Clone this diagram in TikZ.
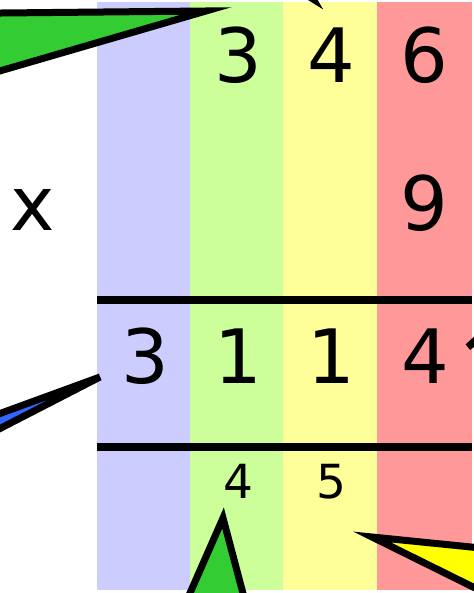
\documentclass[tikz,border=0pt]{standalone}
\usepackage{fontspec}
\setmainfont{DejaVu Sans}

\definecolor{colblue}{HTML}{CCCCFF}
\definecolor{colgreen}{HTML}{CCFF99}
\definecolor{colyellow}{HTML}{FFFF99}
\definecolor{colred}{HTML}{FF9999}
\definecolor{ptgreen}{HTML}{33CC33}
\definecolor{ptblue}{HTML}{3366FF}
\definecolor{ptyellow}{HTML}{FFFF00}
\definecolor{ptred}{HTML}{FF3333}

\tikzset{
  digit/.style={anchor=base, inner sep=0pt, font=\fontsize{75}{80}\selectfont},
  carry/.style={anchor=base, inner sep=0pt, font=\fontsize{47}{52}\selectfont},
  pointer/.style={draw=black, line width=7pt},
  rule/.style={line width=8pt}
}

\begin{document}
\begin{tikzpicture}[x=1pt,y=-1pt]
\useasboundingbox (0,0) rectangle (473,593);
\fill[colblue]   (97,2)  rectangle (190,590);
\fill[colgreen]  (190,2) rectangle (283,590);
\fill[colyellow] (283,2) rectangle (377,590);
\fill[colred]    (377,2) rectangle (472,590);

\coordinate (L1) at (97,300);
\coordinate (R1) at (472,300);
\coordinate (L2) at (97,447);
\coordinate (R2) at (472,447);
\draw[rule] (L1)--(R1);
\draw[rule] (L2)--(R2);

\node[digit] (a3) at (238,83) {3};
\node[digit] (a4) at (331,83) {4};
\node[digit] (a6) at (424,83) {6};
\node[digit] (times) at (33,231) {x};
\node[digit] (b9) at (424,231) {9};
\node[digit] (r3) at (145,383) {3};
\node[digit] (r1) at (238,383) {1};
\node[digit] (r2) at (331,383) {1};
\node[digit] (r4) at (425,383) {4};
\node[carry] (c4) at (238,498) {4};
\node[carry] (c5) at (331,498) {5};

\coordinate (TG) at (206,11);
\coordinate (TB) at (100,377);
\coordinate (BG) at (223,518);
\coordinate (BY) at (372,537);
\coordinate (TR) at (468,347);
\coordinate (TT) at (313,-1);
\draw[pointer, fill=ptgreen] (TG) -- (-100,14) -- (-100,100) -- cycle;
\draw[pointer, fill=ptblue] (TB) -- (-100,450) -- (-100,480) -- cycle;
\draw[pointer, fill=ptgreen] (BG) -- (165,650) -- (258,650) -- cycle;
\draw[pointer, fill=ptyellow] (BY) -- (560,556) -- (560,630) -- cycle;
\draw[pointer, fill=ptred] (TR) -- (540,280) -- (548,290) -- cycle;
\draw[pointer, fill=ptyellow] (TT) -- (250,-40) -- (290,-40) -- cycle;
\end{tikzpicture}
\end{document}
